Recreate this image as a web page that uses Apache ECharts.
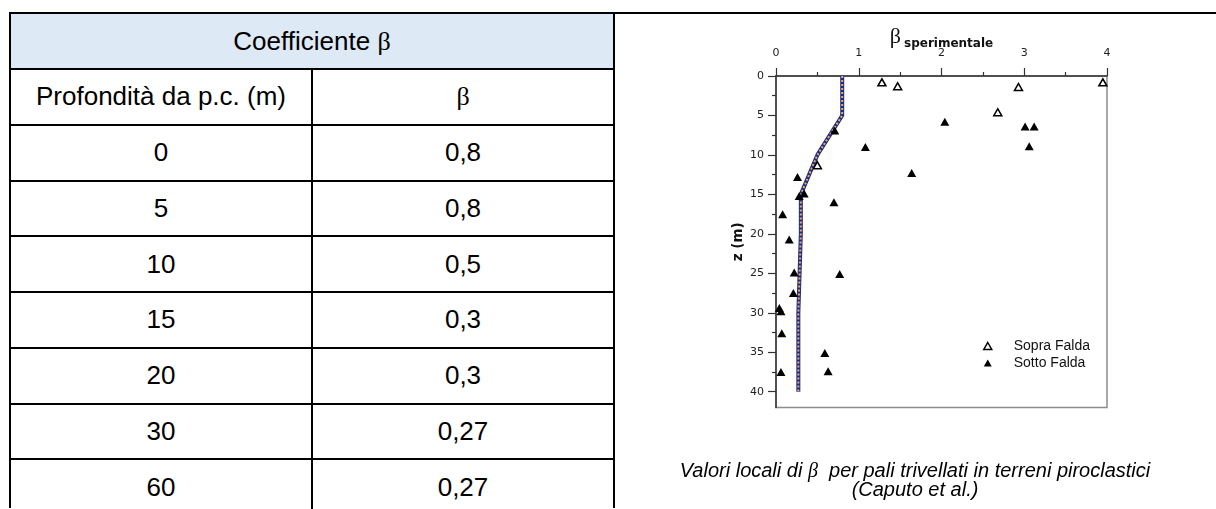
<!DOCTYPE html>
<html>
<head>
<meta charset="utf-8">
<script src="https://cdn.jsdelivr.net/npm/echarts@6/dist/echarts.min.js"></script>
<style>
  html, body { margin: 0; padding: 0; background: #fff; }
  body { width: 1216px; height: 509px; position: relative; overflow: hidden; font-family: "Liberation Sans", Arial, sans-serif; }
  .hl, .vl { position: absolute; background: #000; }
  .cell { position: absolute; display: flex; align-items: center; justify-content: center; font-size: 26px; color: #000; }
  .greek { font-family: "Liberation Serif", "DejaVu Serif", serif; }
  #chart { position: absolute; left: 616px; top: 0; width: 600px; height: 509px; }
  #caption { position: absolute; left: 614px; width: 602px; top: 461px; text-align: center; font-style: italic; font-size: 20px; line-height: 19px; color: #000; }
</style>
</head>
<body>
<div id="table"></div>
<div id="chart"></div>
<div id="caption">Valori locali di <span class="greek">β</span>&nbsp; per pali trivellati in terreni piroclastici<br>(Caputo et al.)</div>
<script>
// ---- Data ----
const tableTitle = 'Coefficiente β';
const tableHeaders = ['Profondità da p.c. (m)', 'β'];
const tableDepth = [0, 5, 10, 15, 20, 30, 60];
const tableBeta = [0.8, 0.8, 0.5, 0.3, 0.3, 0.27, 0.27];

const profileDepth = [0, 5, 10, 15, 20, 30, 40];
const profileBeta = [0.8, 0.8, 0.5, 0.3, 0.3, 0.27, 0.27];

const sopraBeta = [1.28, 1.47, 2.93, 3.95, 2.68, 0.50];
const sopraZ    = [0.8, 1.3, 1.4, 0.8, 4.6, 11.3];

const sottoBeta = [0.71, 2.04, 3.01, 3.12, 3.06, 1.08, 1.64, 0.26, 0.34, 0.28, 0.70, 0.08, 0.16, 0.22, 0.77, 0.21, 0.04, 0.06, 0.07, 0.59, 0.63, 0.06];
const sottoZ    = [6.9, 5.8, 6.4, 6.4, 8.9, 9.0, 12.3, 12.8, 14.9, 15.2, 16.0, 17.5, 20.7, 24.9, 25.1, 27.5, 29.4, 29.8, 32.6, 35.1, 37.4, 37.5];

const xTicks = [0, 1, 2, 3, 4];
const yTicks = [0, 5, 10, 15, 20, 25, 30, 35, 40];
const seriesNames = ['Sopra Falda', 'Sotto Falda'];

// ---- Table (HTML) ----
(function buildTable() {
  const t = document.getElementById('table');
  const L = 10, R = 614, MID = 312, TOP = 13.3, RH = 55.75, LW = 2;
  const nRows = 2 + tableDepth.length;
  function add(cls, style, html) {
    const d = document.createElement('div');
    d.className = cls;
    Object.assign(d.style, style);
    if (html !== undefined) d.innerHTML = '<span>' + html + '</span>';
    t.appendChild(d);
    return d;
  }
  add('', { position: 'absolute', left: L + 'px', top: TOP + 'px', width: (R - L) + 'px', height: RH + 'px', background: '#dde9f5' });
  const fmt = v => String(v).replace('.', ',');
  const greekWrap = s => s.replace(/β/g, '<span class="greek">β</span>');
  add('cell', { left: L + 'px', top: TOP + 'px', width: (R - L) + 'px', height: RH + 'px' }, greekWrap(tableTitle));
  add('cell', { left: L + 'px', top: (TOP + RH) + 'px', width: (MID - L) + 'px', height: RH + 'px' }, greekWrap(tableHeaders[0]));
  add('cell', { left: MID + 'px', top: (TOP + RH) + 'px', width: (R - MID) + 'px', height: RH + 'px' }, greekWrap(tableHeaders[1]));
  tableDepth.forEach((d, i) => {
    const y = TOP + RH * (i + 2);
    add('cell', { left: L + 'px', top: y + 'px', width: (MID - L) + 'px', height: RH + 'px' }, fmt(d));
    add('cell', { left: MID + 'px', top: y + 'px', width: (R - MID) + 'px', height: RH + 'px' }, fmt(tableBeta[i]));
  });
  for (let i = 0; i <= nRows; i++) {
    const y = TOP + RH * i;
    add('hl', { left: (L - 1) + 'px', top: (y - LW / 2) + 'px', width: ((i === 0 ? 1216 : R + 1) - (L - 1)) + 'px', height: LW + 'px' });
  }
  add('vl', { left: (L - 1) + 'px', top: (TOP - 1) + 'px', width: LW + 'px', height: (509 - TOP) + 'px' });
  add('vl', { left: (R - 1) + 'px', top: (TOP - 1) + 'px', width: LW + 'px', height: (509 - TOP) + 'px' });
  add('vl', { left: (MID - 1) + 'px', top: (TOP + RH) + 'px', width: LW + 'px', height: (509 - TOP - RH) + 'px' });
})();

// ---- Chart ----
const chart = echarts.init(document.getElementById('chart'), null, { renderer: 'canvas' });
const axisLabelStyle = { fontFamily: 'DejaVu Sans', fontSize: 11, color: '#222' };
const option = {
  animation: false,
  backgroundColor: 'transparent',
  grid: { left: 160, top: 76, width: 331, height: 331.5, show: true, borderColor: '#8c8c8c', borderWidth: 1.5, backgroundColor: 'transparent' },
  xAxis: {
    type: 'value', position: 'top', min: 0, max: 4, interval: 1,
    name: '{b|β}{s|sperimentale}', nameLocation: 'middle', nameGap: 29, nameMoveOverlap: false,
    nameTextStyle: {
      rich: {
        b: { fontFamily: 'Liberation Serif', fontSize: 22, color: '#111', lineHeight: 20 },
        s: { fontFamily: 'DejaVu Sans', fontWeight: 'bold', fontSize: 12, color: '#111', verticalAlign: 'bottom', lineHeight: 14, padding: [0, 0, -3, 3] }
      }
    },
    axisLine: { show: true, lineStyle: { color: '#333', width: 1.5 } },
    axisTick: { show: true, inside: false, length: 8, lineStyle: { color: '#333', width: 1.2 } },
    minorTick: { show: true, splitNumber: 2, length: 4, lineStyle: { color: '#333', width: 1.2 } },
    axisLabel: Object.assign({ margin: 17, customValues: xTicks }, axisLabelStyle),
    splitLine: { show: false }
  },
  yAxis: {
    type: 'value', inverse: true, min: 0, max: 42, interval: 5,
    name: 'z (m)', nameLocation: 'middle', nameGap: 31, nameMoveOverlap: false,
    nameTextStyle: { fontFamily: 'DejaVu Sans', fontWeight: 'bold', fontSize: 13.5, color: '#111' },
    axisLine: { show: true, lineStyle: { color: '#333', width: 1.5 } },
    axisTick: { show: true, inside: false, length: 8, customValues: yTicks, lineStyle: { color: '#333', width: 1.2 } },
    minorTick: { show: true, splitNumber: 2, length: 4, lineStyle: { color: '#333', width: 1.2 } },
    axisLabel: Object.assign({ margin: 12, customValues: yTicks }, axisLabelStyle),
    splitLine: { show: false }
  },
  legend: {
    data: [
      { name: seriesNames[0], icon: 'triangle', itemStyle: { color: '#fff', borderColor: '#000', borderWidth: 1.5 } },
      { name: seriesNames[1], icon: 'triangle', itemStyle: { color: '#000' } }
    ],
    orient: 'vertical', left: 362, top: 334, itemWidth: 8, itemHeight: 7, itemGap: 3,
    textStyle: { fontFamily: 'Liberation Sans', fontSize: 14, color: '#111', padding: [0, 0, 0, 17] }
  },
  series: [
    {
      type: 'line', name: 'profile-outline', data: profileDepth.map((z, i) => [profileBeta[i], z]),
      symbol: 'none', lineStyle: { color: '#1c2d86', width: 4 }, z: 2, silent: true
    },
    {
      type: 'line', name: 'profile-fill', data: profileDepth.map((z, i) => [profileBeta[i], z]),
      symbol: 'none', lineStyle: { color: '#f2a65e', width: 2, type: [2, 2] }, z: 3, silent: true
    },
    {
      type: 'scatter', name: seriesNames[0], data: sopraBeta.map((b, i) => [b, sopraZ[i]]),
      symbol: 'triangle', symbolSize: [8, 7],
      itemStyle: { color: '#fff', borderColor: '#000', borderWidth: 1.5, opacity: 1 }, z: 4
    },
    {
      type: 'scatter', name: seriesNames[1], data: sottoBeta.map((b, i) => [b, sottoZ[i]]),
      symbol: 'triangle', symbolSize: [9, 8],
      itemStyle: { color: '#000', opacity: 1 }, z: 4
    }
  ]
};
chart.setOption(option);
</script>
</body>
</html>
